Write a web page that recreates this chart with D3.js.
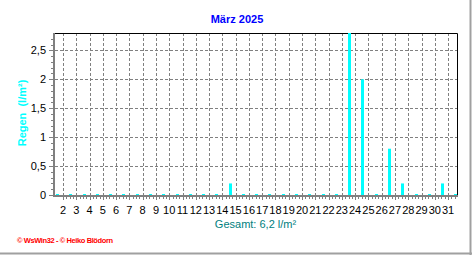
<!DOCTYPE html>
<html>
<head>
<meta charset="utf-8">
<script src="https://cdn.jsdelivr.net/npm/d3@7"></script>
<style>
  body { margin: 0; background: #fff; }
  text { font-family: "Liberation Sans", Arial, sans-serif; }
</style>
</head>
<body>
<div id="chart"></div>
<script>
// daily rain, March 2025
const days = [1, 2, 3, 4, 5, 6, 7, 8, 9, 10, 11, 12, 13, 14, 15, 16,
  17, 18, 19, 20, 21, 22, 23, 24, 25, 26, 27, 28, 29, 30, 31];
const rain = [0, 0, 0, 0, 0, 0, 0, 0, 0, 0, 0, 0, 0, 0.2, 0, 0,
  0, 0, 0, 0, 0, 0, 2.8, 2.0, 0, 0.8, 0.2, 0, 0, 0.2, 0];
const dayLabels = [2, 3, 4, 5, 6, 7, 8, 9, 10, 11, 12, 13, 14, 15, 16, 17,
  18, 19, 20, 21, 22, 23, 24, 25, 26, 27, 28, 29, 30, 31];
const yTicks = [0, 0.5, 1, 1.5, 2, 2.5];

document.addEventListener('DOMContentLoaded', function () {
  const data = days.map((d, i) => ({ day: d, value: rain[i] }));
  const total = d3.sum(rain);

  const width = 472;
  const height = 255;
  const left = 54, right = 457, top = 33, bottom = 195;
  const dayW = 13.28;

  const svg = d3.select("#chart")
    .append("svg")
    .attr("width", width)
    .attr("height", height);

  // x: day labels sit on the grid, each day's value is drawn at its end
  const x = d3.scaleLinear()
    .domain([1, 32])
    .range([49.7, 49.7 + 31 * dayW]);

  const y = d3.scaleLinear()
    .domain([0, 2.8])
    .range([bottom, top]);

  const fmt = v => d3.format("~g")(v).replace(".", ",");

  // outer frame (right + bottom)
  svg.append("line").attr("x1", 470.5).attr("x2", 470.5).attr("y1", 0).attr("y2", 255)
    .attr("stroke", "#a0a0a0").attr("stroke-width", 2);
  svg.append("line").attr("x1", 0).attr("x2", 472).attr("y1", 253.5).attr("y2", 253.5)
    .attr("stroke", "#a0a0a0").attr("stroke-width", 2);

  // horizontal grid
  svg.selectAll(".hgrid")
    .data(yTicks.filter(v => v > 0))
    .enter()
    .append("line")
    .attr("x1", left + 1).attr("x2", right)
    .attr("y1", d => Math.round(y(d)) + 0.5)
    .attr("y2", d => Math.round(y(d)) + 0.5)
    .attr("stroke", "#808080")
    .attr("stroke-dasharray", "3,2");

  // vertical grid
  svg.selectAll(".vgrid")
    .data(dayLabels)
    .enter()
    .append("line")
    .attr("x1", d => Math.round(x(d)) + 0.5)
    .attr("x2", d => Math.round(x(d)) + 0.5)
    .attr("y1", top).attr("y2", bottom)
    .attr("stroke", "#808080")
    .attr("stroke-dasharray", "3,2");

  // top + right border
  svg.append("path")
    .attr("d", `M${left},${top + 0.5}H${right + 0.5}V${bottom}`)
    .attr("fill", "none")
    .attr("stroke", "#000");

  // bars (zero days show as a thin dash)
  svg.selectAll(".bar")
    .data(data)
    .enter()
    .append("rect")
    .attr("class", "bar")
    .attr("x", d => Math.round(x(d.day + 1) - 7))
    .attr("width", 3)
    .attr("y", d => d.value > 0 ? y(d.value) : bottom - 1)
    .attr("height", d => d.value > 0 ? bottom - y(d.value) : 1)
    .attr("fill", "#00ffff");

  // y axis with minor ticks
  const axisY = svg.append("g").attr("stroke", "#808080");
  axisY.append("line")
    .attr("x1", left).attr("x2", left)
    .attr("y1", top).attr("y2", bottom + 2)
    .attr("stroke-width", 2);
  axisY.selectAll(".ytick")
    .data(d3.range(0, 28).map(i => i / 10))
    .enter()
    .append("line")
    .attr("x1", d => (Math.round(d * 10) % 5 === 0) ? left - 5 : left - 3)
    .attr("x2", left)
    .attr("y1", d => Math.round(y(d)) + 0.5)
    .attr("y2", d => Math.round(y(d)) + 0.5);

  svg.selectAll(".ylab")
    .data(yTicks)
    .enter()
    .append("text")
    .attr("x", 46)
    .attr("y", d => y(d) + 4)
    .attr("text-anchor", "end")
    .attr("font-size", 11)
    .text(fmt);

  // x axis with quarter-day ticks
  const axisX = svg.append("g").attr("stroke", "#808080");
  axisX.append("line")
    .attr("x1", left - 1).attr("x2", right + 1)
    .attr("y1", bottom + 1).attr("y2", bottom + 1)
    .attr("stroke-width", 2);
  axisX.selectAll(".xtick")
    .data(d3.range(4, 128).map(i => 1 + i / 4))
    .enter()
    .filter(d => x(d) > left && x(d) < right)
    .append("line")
    .attr("x1", d => Math.round(x(d)) + 0.5)
    .attr("x2", d => Math.round(x(d)) + 0.5)
    .attr("y1", bottom + 2)
    .attr("y2", d => Number.isInteger(d) ? bottom + 5 : bottom + 4);

  svg.selectAll(".xlab")
    .data(dayLabels)
    .enter()
    .append("text")
    .attr("x", d => x(d))
    .attr("y", 214)
    .attr("text-anchor", "middle")
    .attr("font-size", 11)
    .text(d => d);

  // titles
  svg.append("text")
    .attr("x", 237).attr("y", 23)
    .attr("text-anchor", "middle")
    .attr("font-size", 11).attr("font-weight", "bold")
    .attr("fill", "#0000ff")
    .text("März 2025");

  svg.append("text")
    .attr("transform", "translate(26,113) rotate(-90)")
    .attr("text-anchor", "middle")
    .attr("font-size", 11).attr("font-weight", "bold")
    .attr("fill", "#00ffff")
    .attr("xml:space", "preserve")
    .text("Regen  (l/m²)");

  svg.append("text")
    .attr("x", (left + right) / 2).attr("y", 228)
    .attr("text-anchor", "middle")
    .attr("font-size", 11)
    .attr("fill", "#008080")
    .text(`Gesamt: ${fmt(total)} l/m²`);

  svg.append("text")
    .attr("x", 17).attr("y", 243)
    .attr("font-size", 7.5).attr("font-weight", "bold")
    .attr("fill", "#ff0000")
    .attr("textLength", 96)
    .text("© WsWin32  -  © Heiko Blödorn");
});
</script>
</body>
</html>
